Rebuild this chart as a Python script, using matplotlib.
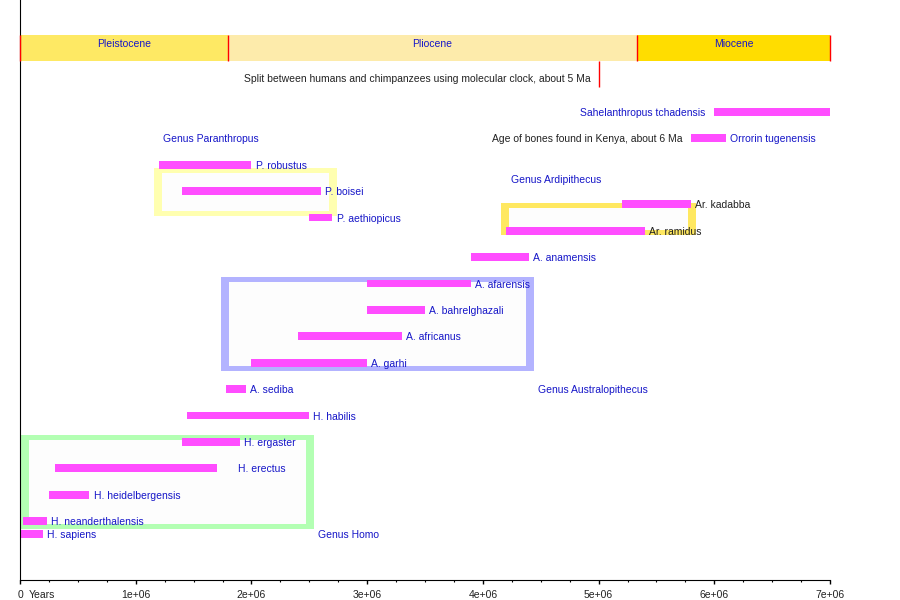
import matplotlib

matplotlib.use("Agg")

import matplotlib.pyplot as plt
from matplotlib.patches import Rectangle

# --- data -------------------------------------------------------------
species = [
    "Sahelanthropus tchadensis", "Orrorin tugenensis",
    "P. robustus", "P. boisei", "P. aethiopicus",
    "Ar. kadabba", "Ar. ramidus",
    "A. anamensis", "A. afarensis", "A. bahrelghazali", "A. africanus",
    "A. garhi", "A. sediba",
    "H. habilis", "H. ergaster", "H. erectus", "H. heidelbergensis",
    "H. neanderthalensis", "H. sapiens",
]
start_years = [6.0e6, 5.8e6, 1.2e6, 1.4e6, 2.5e6, 5.2e6, 4.2e6, 3.9e6, 3.0e6,
               3.0e6, 2.4e6, 2.0e6, 1.78e6, 1.44e6, 1.4e6, 0.3e6, 0.25e6,
               0.03e6, 0.0]
end_years = [7.0e6, 6.1e6, 2.0e6, 2.6e6, 2.7e6, 5.8e6, 5.4e6, 4.4e6, 3.9e6,
             3.5e6, 3.3e6, 3.0e6, 1.95e6, 2.5e6, 1.9e6, 1.7e6, 0.6e6,
             0.23e6, 0.2e6]
rows = [0, 1, 2, 3, 4, 3.5, 4.5, 5.5, 6.5, 7.5, 8.5, 9.5, 10.5, 11.5, 12.5,
        13.5, 14.5, 15.5, 16]

epochs = ["Pleistocene", "Pliocene", "Miocene"]
epoch_start = [0.0, 1.8e6, 5.33e6]
epoch_end = [1.8e6, 5.33e6, 7.0e6]

genera = ["Genus Paranthropus", "Genus Ardipithecus",
          "Genus Australopithecus", "Genus Homo"]
genus_x0 = [1.158e6, 4.157e6, 1.737e6, 0.006e6]
genus_x1 = [2.740e6, 5.842e6, 4.442e6, 2.541e6]
genus_r0 = [2.12, 3.44, 6.25, 12.23]
genus_r1 = [3.93, 4.66, 9.81, 15.78]
genus_label_x = [1.236e6, 4.24e6, 4.48e6, 2.575e6]
genus_label_row = [1, 2.54, 10.5, 16]

split_age = 5.0e6
kenya_age = 5.8e6

x_ticks = [0, 1e6, 2e6, 3e6, 4e6, 5e6, 6e6, 7e6]
x_tick_labels = ["0", "1e+06", "2e+06", "3e+06", "4e+06", "5e+06", "6e+06",
                 "7e+06"]

# --- style ------------------------------------------------------------
BLUE = "#1616c8"
INK = "#222222"
BAR = "#ff4dff"
EPOCH_COLORS = ["#fee964", "#fdebab", "#ffdd00"]
GENUS_COLORS = ["#ffffb0", "#ffe860", "#b3b3ff", "#b3ffb3"]
BLACK_LABELS = {"Ar. kadabba", "Ar. ramidus"}
LEFT_LABELS = {"Sahelanthropus tchadensis"}
EXTRA_OFFSET = {"H. erectus": 12}

plt.rcParams["font.family"] = ["Liberation Sans", "DejaVu Sans"]
FS = 7.5

fig = plt.figure(figsize=(9, 6), dpi=100)
ax = fig.add_axes([20 / 900, 20 / 600, 810 / 900, 580 / 600])
ax.set_xlim(0, 7e6)
ax.set_ylim(17.73, -4.24)

# pixel -> data helpers for box border thickness
yr_per_px = 7e6 / 810
row_per_px = 1 / 26.4

# genus boxes
for x0, x1, r0, r1, c in zip(genus_x0, genus_x1, genus_r0, genus_r1,
                             GENUS_COLORS):
    ax.add_patch(Rectangle((x0, r0), x1 - x0, r1 - r0, facecolor=c,
                           edgecolor="none", zorder=1))
    dx = 8 * yr_per_px
    dy = 5 * row_per_px
    ax.add_patch(Rectangle((x0 + dx, r0 + dy), x1 - x0 - 2 * dx,
                           r1 - r0 - 2 * dy, facecolor="#fdfdfd",
                           edgecolor="none", zorder=1.5))

for name, lx, lr in zip(genera, genus_label_x, genus_label_row):
    ax.annotate(name, (lx, lr), xytext=(0, -0.7), textcoords="offset points",
                color=BLUE, fontsize=FS, ha="left", va="center", zorder=4)

# epoch band
band_top, band_bot = -2.92, -1.93
for name, s, e, c in zip(epochs, epoch_start, epoch_end, EPOCH_COLORS):
    ax.add_patch(Rectangle((s, band_top), e - s, band_bot - band_top,
                           facecolor=c, edgecolor="none", zorder=1,
                           clip_on=False))
    ax.annotate(name, ((s + e) / 2, (band_top + band_bot) / 2),
                xytext=(0, 3), textcoords="offset points", color=BLUE,
                fontsize=FS, ha="center", va="center", zorder=4)
for b in epoch_start + [epoch_end[-1]]:
    ax.plot([b, b], [band_top, band_bot], color="red", lw=1.0, zorder=3,
            clip_on=False, solid_capstyle="butt")

# species bars
ax.barh(rows, [e - s for s, e in zip(start_years, end_years)],
        left=start_years, height=0.3, color=BAR, zorder=2)

for name, s, e, r in zip(species, start_years, end_years, rows):
    color = INK if name in BLACK_LABELS else BLUE
    if name in LEFT_LABELS:
        ax.annotate(name, (s, r), xytext=(-6.5, -0.7),
                    textcoords="offset points", ha="right", va="center",
                    fontsize=FS, color=color, zorder=4)
    else:
        off = 3 + EXTRA_OFFSET.get(name, 0)
        ax.annotate(name, (e, r), xytext=(off, -0.7),
                    textcoords="offset points", ha="left", va="center",
                    fontsize=FS, color=color, zorder=4)

# annotations
ax.plot([split_age, split_age], [band_bot, -0.95], color="red", lw=1.0,
        zorder=3, solid_capstyle="butt")
ax.annotate("Split between humans and chimpanzees using molecular clock, "
            "about 5 Ma", (split_age, -1.25), xytext=(-6, 0),
            textcoords="offset points", ha="right", va="center",
            fontsize=FS, color=INK)
ax.annotate("Age of bones found in Kenya, about 6 Ma", (kenya_age, 1),
            xytext=(-6, -0.7), textcoords="offset points", ha="right",
            va="center", fontsize=FS, color=INK)

# axes styling
for side in ("top", "right"):
    ax.spines[side].set_visible(False)
ax.spines["left"].set_color("black")
ax.spines["bottom"].set_color("black")
ax.set_yticks([])
ax.set_xticks(x_ticks)
ax.set_xticklabels(x_tick_labels)
ax.set_xticks([t for t in range(0, 7000001, 250000) if t % 1000000],
              minor=True)
ax.tick_params(axis="x", which="major", length=3, width=1, pad=4,
               labelsize=FS, labelcolor=INK)
ax.tick_params(axis="x", which="minor", length=1.5, width=0.8)
ax.annotate("Years", (0, 0), xycoords=("data", "axes fraction"),
            xytext=(6.5, -10.8), textcoords="offset points", ha="left",
            va="center", fontsize=FS, color=INK)

fig.savefig("out.png", dpi=100)
